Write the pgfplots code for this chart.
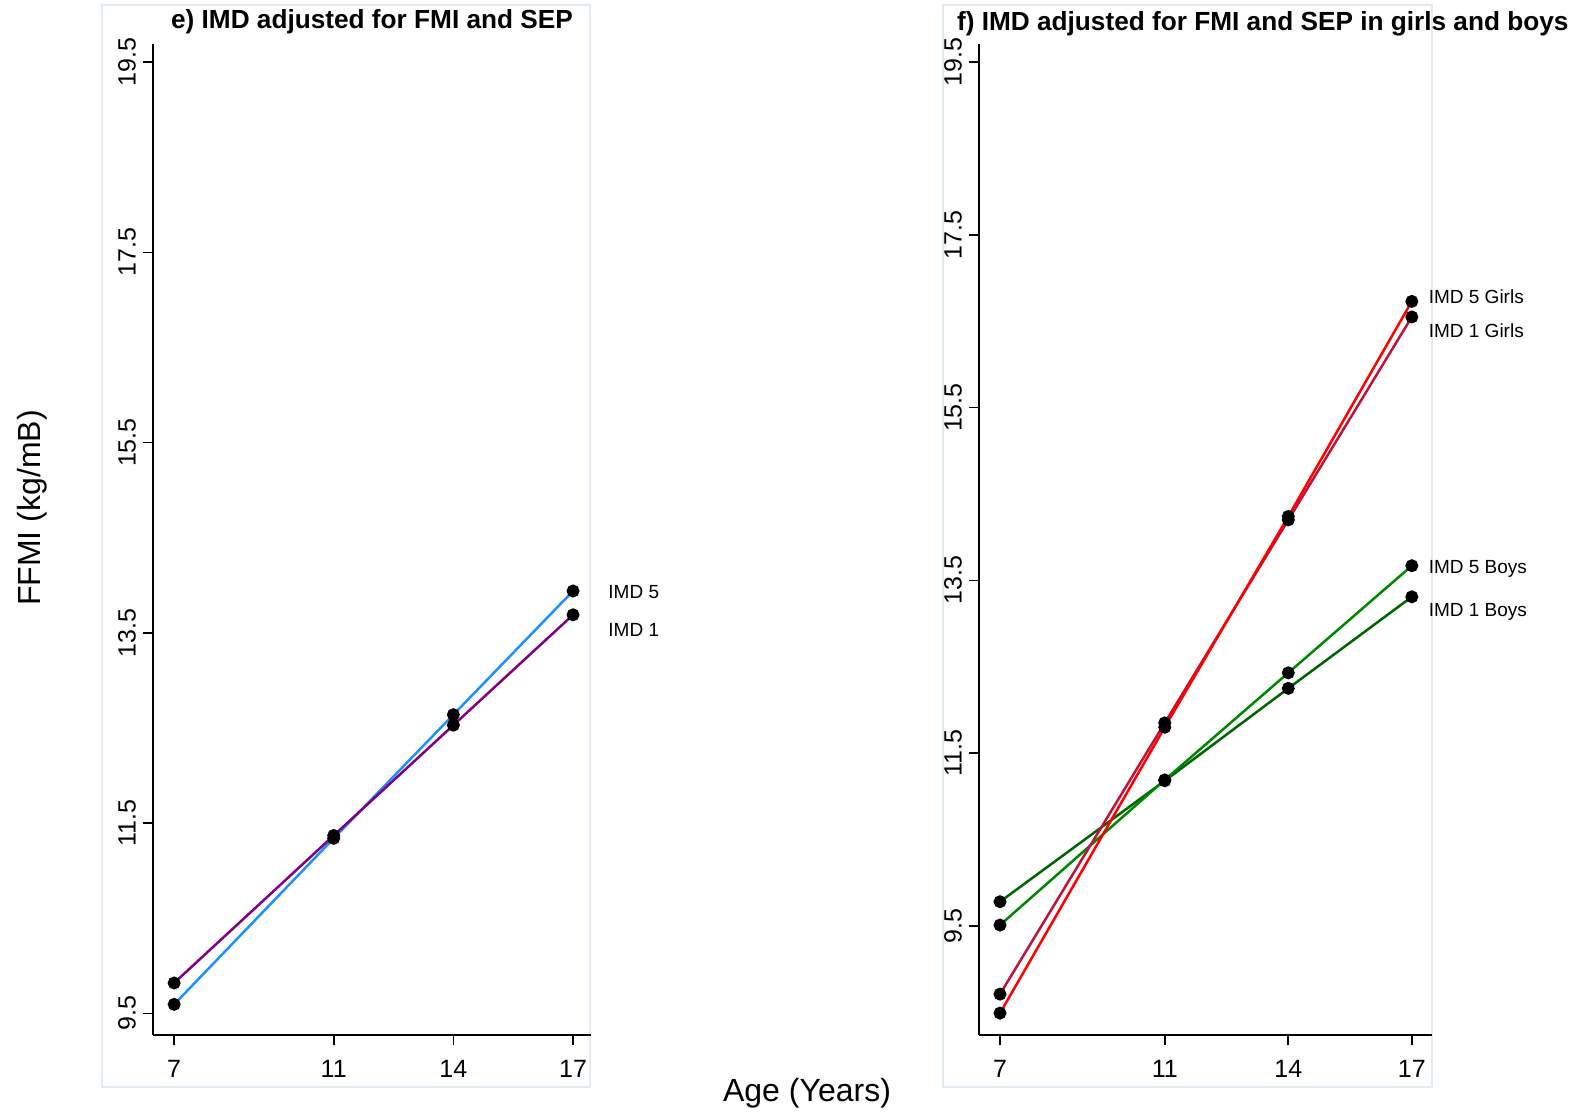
\documentclass[border=0pt]{standalone}
\usepackage{fontspec}
\setmainfont{Liberation Sans}
\usepackage{pgfplots}
\pgfplotsset{compat=1.18}
\definecolor{imdblue}{RGB}{30,144,255}
\definecolor{imdpurple}{RGB}{128,0,128}
\definecolor{girlfive}{RGB}{255,0,0}
\definecolor{girlone}{RGB}{190,20,60}
\definecolor{boyfive}{RGB}{0,135,0}
\definecolor{boyone}{RGB}{0,100,0}
\definecolor{panelbox}{RGB}{226,234,242}
\pgfplotsset{
  panel/.style={
    scale only axis, anchor=south west,
    axis x line=bottom, axis y line=left,
    axis line style={-, line width=0.9pt, black},
    tick align=outside, major tick length=5pt,
    tick style={line width=0.8pt, black},
    xtick={7,11,14,17}, xticklabels={7,11,14,17},
    ytick={9.5,11.5,13.5,15.5,17.5,19.5},
    yticklabels={9.5,11.5,13.5,15.5,17.5,19.5},
    yticklabel style={rotate=90, anchor=south},
    xticklabel style={yshift=-4pt},
    /pgf/number format/assume math mode=true,
    tick label style={font=\fontsize{12.5}{14}\selectfont},
    clip=false,
    every axis plot/.append style={line width=1.25pt, mark=*, mark size=2.6pt,
      mark options={fill=black, draw=black, solid}},
  }
}
\begin{document}
\begin{tikzpicture}
\path (0,0) rectangle (789pt,556.5pt);
\draw[panelbox, line width=0.8pt] (51pt,13pt) rectangle (295pt,554pt);
\draw[panelbox, line width=0.8pt] (471.5pt,13pt) rectangle (716pt,554pt);
\begin{axis}[panel, at={(76.5pt,39pt)}, width=219pt, height=495.5pt,
  xmin=6.47, xmax=17.45, ymin=9.273, ymax=19.69]
\addplot[imdblue] coordinates {(7,9.595)(11,11.34)(14,12.64)(17,13.94)};
\addplot[imdpurple] coordinates {(7,9.82)(11,11.37)(14,12.53)(17,13.69)};
\node[anchor=west, font=\fontsize{9.5}{11}\selectfont] at (axis cs:17.71,13.93) {IMD 5};
\node[anchor=west, font=\fontsize{9.5}{11}\selectfont] at (axis cs:17.71,13.53) {IMD 1};
\end{axis}
\begin{axis}[panel, at={(489.5pt,39pt)}, width=226.5pt, height=495.5pt,
  xmin=6.49, xmax=17.49, ymin=8.237, ymax=19.71]
\addplot[boyone] coordinates {(7,9.78)(11,11.18)(14,12.25)(17,13.31)};
\addplot[boyfive] coordinates {(7,9.51)(11,11.19)(14,12.43)(17,13.67)};
\addplot[girlone] coordinates {(7,8.71)(11,11.85)(14,14.20)(17,16.55)};
\addplot[girlfive] coordinates {(7,8.49)(11,11.80)(14,14.24)(17,16.73)};
\node[anchor=west, font=\fontsize{9.5}{11}\selectfont] at (axis cs:17.24,16.78) {IMD 5 Girls};
\node[anchor=west, font=\fontsize{9.5}{11}\selectfont] at (axis cs:17.24,16.39) {IMD 1 Girls};
\node[anchor=west, font=\fontsize{9.5}{11}\selectfont] at (axis cs:17.24,13.63) {IMD 5 Boys};
\node[anchor=west, font=\fontsize{9.5}{11}\selectfont] at (axis cs:17.24,13.13) {IMD 1 Boys};
\end{axis}
\node[font=\bfseries\fontsize{13.1}{15}\selectfont] at (186pt,545.5pt) {e) IMD adjusted for FMI and SEP};
\node[anchor=west, font=\bfseries\fontsize{13.1}{15}\selectfont] at (475pt,544.5pt) {f) IMD adjusted for FMI and SEP in girls and boys};
\node[rotate=90, font=\fontsize{16}{19}\selectfont] at (16pt,302.5pt) {FFMI (kg/mB)};
\node[font=\fontsize{16}{19}\selectfont] at (403.5pt,10pt) {Age (Years)};
\end{tikzpicture}
\end{document}
